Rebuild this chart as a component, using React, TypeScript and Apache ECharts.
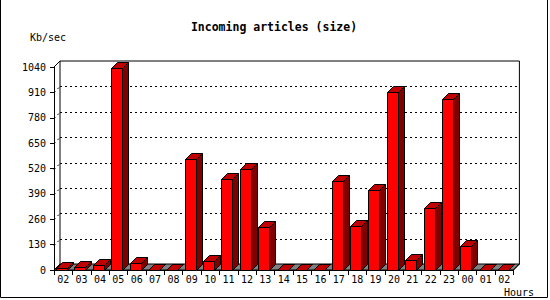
import React, { useEffect, useRef } from "react";
import * as echarts from "echarts";

const categories = ["02", "03", "04", "05", "06", "07", "08", "09", "10", "11", "12", "13", "14", "15", "16", "17", "18", "19", "20", "21", "22", "23", "00", "01", "02"];
const values = [8, 15, 24, 1035, 34, 1, 1, 567, 44, 465, 516, 219, 1, 1, 1, 454, 224, 408, 910, 50, 316, 874, 121, 1, 1];
const yTicks = [0, 130, 260, 390, 520, 650, 780, 910, 1040];

const FONT = "DejaVu Sans Mono";
const DEPTH = 6;

export default function App() {
  const ref = useRef<HTMLDivElement>(null);

  useEffect(() => {
    if (!ref.current) return;
    const chart = echarts.init(ref.current, undefined, { renderer: "svg" });
    const yMax = yTicks[yTicks.length - 1];

    const option: any = {
      animation: false,
      backgroundColor: "#ffffff",
      grid: { left: 54, top: 67, right: 36.6, bottom: 30, containLabel: false },
      xAxis: {
        type: "category",
        data: categories,
        boundaryGap: true,
        axisLine: { show: true, lineStyle: { color: "#000", width: 1 } },
        axisTick: { show: true, length: 5, lineStyle: { color: "#000" } },
        axisLabel: { color: "#000", fontFamily: FONT, fontSize: 10, margin: 4, interval: 0 },
        splitLine: { show: false },
      },
      yAxis: {
        type: "value",
        min: 0,
        max: yMax,
        interval: 130,
        axisLine: { show: true, lineStyle: { color: "#000", width: 1 } },
        axisTick: { show: true, length: 4, lineStyle: { color: "#000" } },
        axisLabel: { color: "#000", fontFamily: FONT, fontSize: 10, margin: 8, formatter: (v: number) => String(v) },
        splitLine: { show: false },
      },
      graphic: [
        {
          type: "text",
          x: 274,
          y: 26.5,
          style: {
            text: "Incoming articles (size)",
            fill: "#000",
            font: `bold 11.5px "${FONT}"`,
            align: "center",
            verticalAlign: "middle",
          },
        },
        {
          type: "text",
          x: 30,
          y: 37,
          style: { text: "Kb/sec", fill: "#000", font: `10px "${FONT}"`, align: "left", verticalAlign: "middle" },
        },
        {
          type: "text",
          x: 504,
          y: 292,
          style: { text: "Hours", fill: "#000", font: `10px "${FONT}"`, align: "left", verticalAlign: "middle" },
        },
        {
          type: "polyline",
          shape: { points: [[0.5, 0], [0.5, 297.5], [547.5, 297.5], [547.5, 0]] },
          style: { stroke: "#000", lineWidth: 1, fill: "none" },
        },
      ],
      series: [
        {
          type: "custom",
          z: 1,
          silent: true,
          data: [[0, 0]],
          renderItem: (params: any, api: any) => {
            const cs = params.coordSys;
            const x0 = cs.x;
            const x1 = cs.x + cs.width;
            const yb = api.coord([0, 0])[1];
            const yt = api.coord([0, yMax])[1];
            const d = DEPTH;
            const children: any[] = [];
            children.push({
              type: "polygon",
              shape: { points: [[x0, yb], [x1, yb], [x1 + d, yb - d], [x0 + d, yb - d]] },
              style: { fill: "#808080", stroke: "#000", lineWidth: 1 },
            });
            yTicks.forEach((v) => {
              if (v === 0 || v === yMax) return;
              const y = Math.round(api.coord([0, v])[1]) + 0.5;
              children.push({
                type: "line",
                shape: { x1: x0 + d, y1: y - d, x2: x1 + d, y2: y - d },
                style: { stroke: "#000", lineWidth: 1, lineDash: [2, 3] },
              });
              children.push({
                type: "line",
                shape: { x1: x0, y1: y, x2: x0 + d, y2: y - d },
                style: { stroke: "#000", lineWidth: 1, lineDash: [2, 3] },
              });
            });
            children.push({
              type: "polyline",
              shape: {
                points: [[x0, yt], [x0 + d, yt - d], [x1 + d, yt - d], [x1 + d, yb - d], [x1, yb]],
              },
              style: { stroke: "#000", lineWidth: 1, fill: "none" },
            });
            children.push({
              type: "line",
              shape: { x1: x0 + d, y1: yt - d, x2: x0 + d, y2: yb - d },
              style: { stroke: "#000", lineWidth: 1 },
            });
            return { type: "group", children };
          },
        },
        {
          type: "custom",
          z: 3,
          data: values.map((v, i) => [i, v]),
          encode: { x: 0, y: 1 },
          renderItem: (params: any, api: any) => {
            const idx = api.value(0);
            const val = api.value(1);
            const [cx, yTop] = api.coord([idx, val]);
            const yBase = api.coord([idx, 0])[1];
            const bw = api.size([1, 0])[0];
            const left = Math.round(cx - bw / 2 + 2) + 0.5;
            const w = Math.round(bw * 0.6);
            const right = left + w;
            const top = Math.round(yTop) + 0.5;
            const base = Math.round(yBase) + 0.5;
            const d = DEPTH;
            const stroke = { stroke: "#000", lineWidth: 1 };
            return {
              type: "group",
              children: [
                {
                  type: "polygon",
                  shape: { points: [[right, top], [right + d, top - d], [right + d, base - d], [right, base]] },
                  style: { fill: "#800000", ...stroke },
                },
                {
                  type: "polygon",
                  shape: { points: [[left, top], [right, top], [right + d, top - d], [left + d, top - d]] },
                  style: { fill: "#c00000", ...stroke },
                },
                {
                  type: "rect",
                  shape: { x: left, y: top, width: w, height: base - top },
                  style: { fill: "#ff0000", ...stroke },
                },
              ],
            };
          },
        },
      ],
    };
    chart.setOption(option);
    return () => chart.dispose();
  }, []);

  return (
    <div
      ref={ref}
      style={{ position: "fixed", left: 0, top: 0, width: 550, height: 300, background: "#fff" }}
    />
  );
}
